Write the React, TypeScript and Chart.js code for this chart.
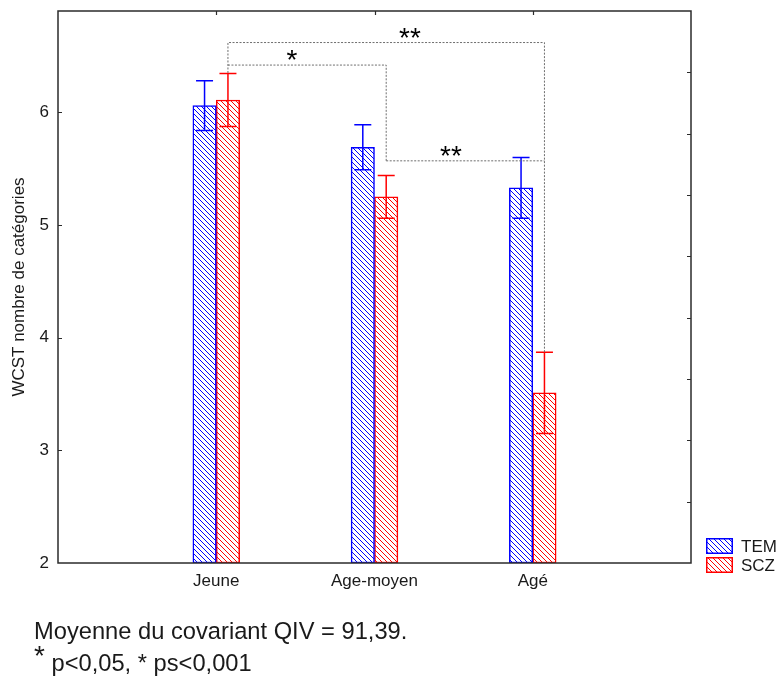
import React, { useEffect, useRef } from 'react';
import { Chart, registerables } from 'chart.js';

Chart.register(...registerables);

// ---------- data ----------
const categories = ['Jeune', 'Age-moyen', 'Agé'];
const seriesNames = ['TEM', 'SCZ'];
const temMeans = [6.06, 5.69, 5.33];
const temErrors = [0.22, 0.2, 0.27];
const sczMeans = [6.11, 5.25, 3.51];
const sczErrors = [0.235, 0.19, 0.36];
const yMin = 2;
const yMax = 6.9;
const yStep = 1;
const yTitle = 'WCST nombre de catégories';

// significance brackets, drawn between SCZ bars (category indices)
const bracketLabels = ['**', '*', '**'];
const bracketFrom = [0, 0, 1];
const bracketTo = [2, 1, 2];
const bracketLevels = [6.62, 6.42, 5.57];
const bracketLeftEnds = [6.35, 6.42, 5.57];
const bracketRightEnds = [3.87, 5.57, 5.57];
const bracketLabelX = [2.224, 1.479, 2.483]; // position on the x category scale

const footLine1 = 'Moyenne du covariant QIV = 91,39.';
const footLine2 = ' p<0,05, * ps<0,001';

const BLUE = '#0000ff';
const RED = '#ff0000';
const TEXT = '#1a1a1a';
const FONT = '"Liberation Sans", Arial, Helvetica, sans-serif';

function makeHatch(color: string, size: number) {
  const c = document.createElement('canvas');
  c.width = size;
  c.height = size;
  const g = c.getContext('2d')!;
  g.fillStyle = '#ffffff';
  g.fillRect(0, 0, size, size);
  g.strokeStyle = color;
  g.lineWidth = 1;
  g.beginPath();
  g.moveTo(-1, -1);
  g.lineTo(size + 1, size + 1);
  g.moveTo(-size - 1, -1);
  g.lineTo(1, size + 1);
  g.moveTo(size - 1, -1);
  g.lineTo(2 * size + 1, size + 1);
  g.stroke();
  return g.createPattern(c, 'repeat')!;
}

export default function App() {
  const ref = useRef<HTMLCanvasElement | null>(null);

  useEffect(() => {
    if (!ref.current) return;
    Chart.defaults.font.family = FONT;
    const blueHatch = makeHatch(BLUE, 5);
    const redHatch = makeHatch(RED, 5);
    const hatches = [blueHatch, redHatch];
    const colors = [BLUE, RED];
    const means = [temMeans, sczMeans];
    const errors = [temErrors, sczErrors];

    const labels = ['', ...categories, ''];

    const overlay = {
      id: 'overlay',
      afterDatasetsDraw(chart: any) {
        const ctx = chart.ctx as CanvasRenderingContext2D;
        const { left, right, top, bottom } = chart.chartArea;
        const xs = chart.scales.x;
        const ys = chart.scales.y;
        const ys2 = chart.scales.y2;
        ctx.save();

        // error bars
        for (let d = 0; d < 2; d++) {
          const meta = chart.getDatasetMeta(d);
          ctx.strokeStyle = colors[d];
          ctx.lineWidth = 1.5;
          for (let i = 0; i < categories.length; i++) {
            const el = meta.data[i + 1];
            if (!el) continue;
            const x = el.x;
            const y1 = ys.getPixelForValue(means[d][i] + errors[d][i]);
            const y2 = ys.getPixelForValue(means[d][i] - errors[d][i]);
            ctx.beginPath();
            ctx.moveTo(x, y1);
            ctx.lineTo(x, y2);
            ctx.moveTo(x - 8.5, y1);
            ctx.lineTo(x + 8.5, y1);
            ctx.moveTo(x - 8.5, y2);
            ctx.lineTo(x + 8.5, y2);
            ctx.stroke();
          }
        }

        // significance brackets
        const scz = chart.getDatasetMeta(1);
        ctx.strokeStyle = '#6e6e6e';
        ctx.lineWidth = 1;
        ctx.setLineDash([2, 1.5]);
        for (let b = 0; b < bracketLabels.length; b++) {
          const xa = scz.data[bracketFrom[b] + 1].x;
          const xb = scz.data[bracketTo[b] + 1].x;
          const yl = ys.getPixelForValue(bracketLevels[b]);
          const ya = ys.getPixelForValue(bracketLeftEnds[b]);
          const yb = ys.getPixelForValue(bracketRightEnds[b]);
          ctx.beginPath();
          ctx.moveTo(xa, ya);
          ctx.lineTo(xa, yl);
          ctx.lineTo(xb, yl);
          ctx.lineTo(xb, yb);
          ctx.stroke();
        }
        ctx.setLineDash([]);
        ctx.fillStyle = '#000';
        ctx.font = `28px ${FONT}`;
        ctx.textAlign = 'center';
        ctx.textBaseline = 'alphabetic';
        for (let b = 0; b < bracketLabels.length; b++) {
          const x = xs.getPixelForValue(bracketLabelX[b]);
          const y = ys.getPixelForValue(bracketLevels[b]);
          ctx.fillText(bracketLabels[b], x, y + 4);
        }

        // frame
        ctx.strokeStyle = '#2b2b2b';
        ctx.lineWidth = 1.5;
        ctx.strokeRect(left, top, right - left, bottom - top);

        // inward ticks
        ctx.lineWidth = 1.2;
        ctx.beginPath();
        for (let v = yMin + yStep; v < yMax; v += yStep) {
          const y = Math.round(ys.getPixelForValue(v)) + 0.5;
          ctx.moveTo(left, y);
          ctx.lineTo(left + 4, y);
        }
        for (let v = ys2.min + 1; v < ys2.max; v++) {
          const y = Math.round(ys2.getPixelForValue(v)) + 0.5;
          ctx.moveTo(right, y);
          ctx.lineTo(right - 4, y);
        }
        for (let i = 0; i < categories.length; i++) {
          const x = Math.round(xs.getPixelForValue(i + 1)) + 0.5;
          ctx.moveTo(x, top);
          ctx.lineTo(x, top + 4);
        }
        ctx.stroke();

        // legend
        const lx = 706;
        const ly = [538, 557];
        ctx.font = `17px ${FONT}`;
        ctx.textAlign = 'left';
        ctx.textBaseline = 'middle';
        for (let d = 0; d < 2; d++) {
          ctx.fillStyle = hatches[d];
          ctx.fillRect(lx, ly[d], 27, 16);
          ctx.strokeStyle = colors[d];
          ctx.lineWidth = 1.5;
          ctx.strokeRect(lx + 0.75, ly[d] + 0.75, 25.5, 14.5);
          ctx.fillStyle = TEXT;
          ctx.fillText(chart.data.datasets[d].label, 741, ly[d] + 9);
        }
        ctx.restore();
      },
    };

    const chart = new Chart(ref.current, {
      type: 'bar',
      data: {
        labels,
        datasets: seriesNames.map((name, d) => ({
          label: name,
          data: [null, ...means[d], null],
          backgroundColor: hatches[d],
          borderColor: colors[d],
          borderWidth: 1.5,
          borderSkipped: false,
          barThickness: 23.4,
          base: yMin,
        })) as any,
      },
      options: {
        responsive: false,
        animation: false,
        devicePixelRatio: 1,
        layout: { padding: { left: 0, top: 11, right: 87, bottom: 0 } },
        plugins: { legend: { display: false }, tooltip: { enabled: false } },
        scales: {
          x: {
            type: 'category',
            offset: false,
            grid: { display: false, drawTicks: false },
            border: { display: false },
            ticks: { padding: 8, font: { size: 17 }, color: TEXT, autoSkip: false, maxRotation: 0 },
            afterFit: (s: any) => {
              s.height = 126;
              s.paddingLeft = 0;
              s.paddingRight = 0;
            },
          },
          y: {
            min: yMin,
            max: yMax,
            grid: { display: false, drawTicks: false },
            border: { display: false },
            ticks: { stepSize: yStep, includeBounds: false, padding: 9, font: { size: 17 }, color: TEXT },
            title: { display: true, text: yTitle, font: { size: 17 }, color: TEXT, padding: { top: 9, bottom: 0 } },
            afterFit: (s: any) => {
              s.width = 58;
              s.paddingTop = 0;
              s.paddingBottom = 0;
            },
          },
          y2: {
            display: false,
            position: 'right',
            min: 0,
            max: 9,
            afterFit: (s: any) => {
              s.paddingTop = 0;
              s.paddingBottom = 0;
            },
          },
        },
      } as any,
      plugins: [overlay],
    });
    return () => chart.destroy();
  }, []);

  return (
    <div style={{ position: 'fixed', left: 0, top: 0, width: 778, height: 689, background: '#fff' }}>
      <canvas ref={ref} width={778} height={689} style={{ width: 778, height: 689, display: 'block' }} />
      <div
        style={{
          position: 'absolute',
          left: 34,
          top: 615,
          fontFamily: FONT,
          fontSize: 23.7,
          lineHeight: '32px',
          color: TEXT,
          whiteSpace: 'nowrap',
        }}
      >
        <div>{footLine1}</div>
        <div>
          <span style={{ fontSize: 28, position: 'relative', top: -6, lineHeight: 0 }}>*</span>
          {footLine2}
        </div>
      </div>
    </div>
  );
}
